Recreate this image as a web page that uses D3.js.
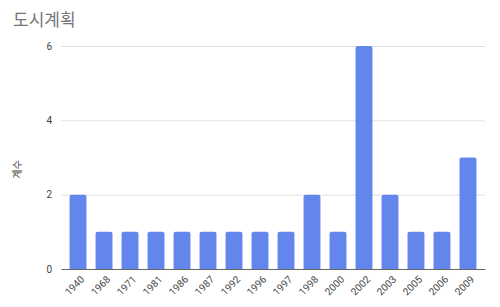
<!DOCTYPE html>
<html>
<head>
<meta charset="utf-8">
<script src="https://cdn.jsdelivr.net/npm/d3@7"></script>
<style>
  body { margin: 0; background: #fff; }
  text { font-family: Roboto, "Noto Sans CJK KR", sans-serif; }
</style>
</head>
<body>
<svg></svg>
<script>
// 연도별 도시계획 건수
var years = ["1940", "1968", "1971", "1981", "1986", "1987", "1992", "1996",
             "1997", "1998", "2000", "2002", "2003", "2005", "2006", "2009"];
var counts = [2, 1, 1, 1, 1, 1, 1, 1, 1, 2, 1, 6, 2, 1, 1, 3];
var yTicks = [0, 2, 4, 6];

var svgWidth = 500,
    svgHeight = 307;
var margin = { top: 46, right: 15, bottom: 38, left: 61 };
var width = svgWidth - margin.left - margin.right;
var height = svgHeight - margin.top - margin.bottom;

var svg = d3.select("svg")
    .attr("width", svgWidth)
    .attr("height", svgHeight);

var g = svg.append("g")
    .attr("transform", "translate(" + margin.left + "," + margin.top + ")");

var x = d3.scaleBand()
    .domain(years)
    .range([0, width])
    .paddingInner(0.35)
    .paddingOuter(0.33);

var y = d3.scaleLinear()
    .domain([0, 6])
    .range([height, 0]);

// title
svg.append("text")
    .attr("x", 13)
    .attr("y", 26)
    .attr("fill", "#757575")
    .style("font-size", "17px")
    .text("도시계획");

// y axis title
svg.append("text")
    .attr("transform", "translate(21," + (margin.top + height / 2 + 12) + ") rotate(-90)")
    .attr("text-anchor", "middle")
    .attr("fill", "#444")
    .style("font-size", "10px")
    .text("계수");

// gridlines
g.append("g")
    .selectAll("line")
    .data(yTicks.filter(function(d) { return d > 0 }))
    .join("line")
    .attr("x1", 0)
    .attr("x2", width)
    .attr("y1", function(d) { return y(d) + 0.5 })
    .attr("y2", function(d) { return y(d) + 0.5 })
    .attr("stroke", "#e0e0e0")
    .attr("stroke-width", 1);

// y tick labels
var yAxis = g.append("g")
    .call(d3.axisLeft(y).tickValues(yTicks).tickFormat(d3.format("d")).tickSize(0).tickPadding(9));
yAxis.select(".domain").remove();
yAxis.selectAll("text")
    .attr("fill", "#444")
    .style("font-size", "10px")
    .style("font-family", "Roboto, sans-serif");

// bars
g.append("g")
    .selectAll("path")
    .data(years)
    .join("path")
    .attr("fill", "#6286eb")
    .attr("d", function(d, i) {
        var x0 = x(d), w = x.bandwidth(), y0 = y(counts[i]), r = 2;
        return "M" + x0 + "," + height +
               "V" + (y0 + r) +
               "Q" + x0 + "," + y0 + " " + (x0 + r) + "," + y0 +
               "H" + (x0 + w - r) +
               "Q" + (x0 + w) + "," + y0 + " " + (x0 + w) + "," + (y0 + r) +
               "V" + height + "Z";
    });

// x axis
var xAxis = g.append("g")
    .attr("transform", "translate(0," + height + ")")
    .call(d3.axisBottom(x).tickSize(0).tickPadding(0));
xAxis.select(".domain")
    .attr("stroke", "#666")
    .attr("stroke-width", 1.2);
xAxis.selectAll("text")
    .attr("fill", "#444")
    .style("font-size", "10px")
    .style("font-family", "Roboto, sans-serif")
    .attr("text-anchor", "end")
    .attr("dy", "0")
    .attr("transform", "translate(7,11) rotate(-45)");
</script>
</body>
</html>
